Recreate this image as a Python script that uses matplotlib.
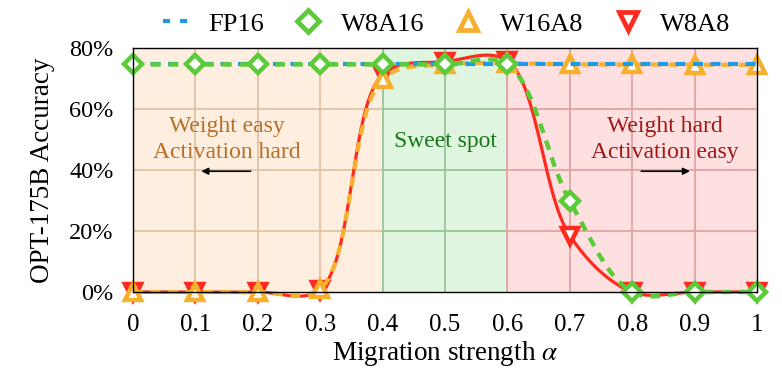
import numpy as np
import matplotlib
matplotlib.use("Agg")
import matplotlib.pyplot as plt
from matplotlib.lines import Line2D

plt.rcParams['font.family'] = ['Liberation Serif', 'DejaVu Serif']
plt.rcParams['mathtext.fontset'] = 'stix'

# ---- data ----
alpha = [0.0, 0.1, 0.2, 0.3, 0.4, 0.5, 0.6, 0.7, 0.8, 0.9, 1.0]
fp16 = [74.6, 74.6, 74.6, 74.6, 74.6, 74.6, 74.6, 74.6, 74.6, 74.6, 74.6]
w8a16 = [74.6, 74.6, 74.6, 74.6, 74.6, 74.6, 74.6, 29.8, 0.0, 0.0, 0.0]
w16a8 = [0.0, 0.0, 0.0, 1.0, 69.8, 74.6, 75.0, 74.6, 74.6, 74.5, 74.5]
w8a8 = [0.0, 0.0, 0.0, 0.8, 71.3, 75.5, 75.8, 18.5, 0.0, 0.0, 0.0]

xticks = [0, 0.1, 0.2, 0.3, 0.4, 0.5, 0.6, 0.7, 0.8, 0.9, 1.0]
xticklabels = ['0', '0.1', '0.2', '0.3', '0.4', '0.5', '0.6', '0.7', '0.8', '0.9', '1']
yticks = [0, 20, 40, 60, 80]
yticklabels = ['0%', '20%', '40%', '60%', '80%']

regions = [(0.0, 0.4), (0.4, 0.6), (0.6, 1.0)]
region_bg = ['#FDEEE0', '#E0F5E0', '#FFE0E0']
region_grid = ['#E0C3A5', '#98C498', '#E2A2A2']

SX, SY = 624.0, 3.05  # approximate pixel scale for spline parameterisation


def smooth(x, y, n=40, a=0.5):
    P = np.column_stack([np.asarray(x, float) * SX, np.asarray(y, float) * SY])
    P = np.vstack([2 * P[0] - P[1], P, 2 * P[-1] - P[-2]])
    d = np.linalg.norm(np.diff(P, axis=0), axis=1)
    d = np.maximum(d, 1e-6) ** a
    t = np.concatenate([[0], np.cumsum(d)])
    tang = np.zeros_like(P)
    for i in range(1, len(P) - 1):
        t0, t1, t2 = t[i - 1], t[i], t[i + 1]
        tang[i] = (P[i] - P[i - 1]) / (t1 - t0) - (P[i + 1] - P[i - 1]) / (t2 - t0) + \
            (P[i + 1] - P[i]) / (t2 - t1)
    out = []
    s = np.linspace(0, 1, n)[:, None]
    for i in range(1, len(P) - 2):
        dt = t[i + 1] - t[i]
        p0, p3 = P[i], P[i + 1]
        c1 = p0 + tang[i] * dt / 3
        c2 = p3 - tang[i + 1] * dt / 3
        b = (1 - s) ** 3 * p0 + 3 * (1 - s) ** 2 * s * c1 + 3 * (1 - s) * s ** 2 * c2 + s ** 3 * p3
        out.append(b)
    out = np.vstack(out)
    return out[:, 0] / SX, out[:, 1] / SY


fig = plt.figure(figsize=(7.82, 3.74), dpi=100)
ax = fig.add_axes([133 / 782, 82 / 374, 624 / 782, 244 / 374])
ax.set_xlim(0, 1)
ax.set_ylim(0, 80)

# backgrounds and tinted grid
for (a, b), bg, gc in zip(regions, region_bg, region_grid):
    ax.axvspan(a, b, color=bg, zorder=0, lw=0)
    for yy in yticks[1:-1]:
        ax.hlines(yy, a, b, color=gc, lw=1.3, zorder=0.5)
    for xx in xticks:
        if a - 1e-9 <= xx < b - 1e-9 and xx > 0:
            ax.vlines(xx, 0, 80, color=gc, lw=1.3, zorder=0.5)

# series
red = '#FF2A1F'
orange = '#F7AF2E'
blue = '#1E9BE3'
green = '#5BCB3A'

sx, sy = smooth(alpha, w8a8)
ax.plot(sx, sy, color=red, lw=2.3, zorder=3, clip_on=False)
ax.plot(alpha, w8a8, ls='none', marker='v', ms=11.5, mfc='white', mec=red, mew=3.2,
        zorder=3, clip_on=False)

sx, sy = smooth(alpha, w16a8)
ax.plot(sx, sy, color=orange, lw=3, dashes=(2.4, 1.8), zorder=4, clip_on=False)
ax.plot(alpha, w16a8, ls='none', marker='^', ms=11.5, mfc='white', mec=orange, mew=3.2,
        zorder=4, clip_on=False)

ax.plot(alpha, fp16, color=blue, lw=3, dashes=(2.4, 1.8), zorder=5, clip_on=False)

sx, sy = smooth(alpha, w8a16)
ax.plot(sx, sy, color=green, lw=3.2, dashes=(2.2, 1.8), zorder=6, clip_on=False)
ax.plot(alpha, w8a16, ls='none', marker='D', ms=9, mfc='white', mec=green, mew=3.2,
        zorder=6, clip_on=False)

# annotations
ax.text(0.15, 50, 'Weight easy\nActivation hard', color='#B86F28', fontsize=17,
        ha='center', va='center', linespacing=1.3, zorder=2)
ax.text(0.5, 49.5, 'Sweet spot', color='#17781A', fontsize=17,
        ha='center', va='center', zorder=2)
ax.text(0.853, 50, 'Weight hard\nActivation easy', color='#A01818', fontsize=17,
        ha='center', va='center', linespacing=1.3, zorder=2)
ax.annotate('', xy=(0.105, 39.6), xytext=(0.193, 39.6),
            arrowprops=dict(arrowstyle='-|>', color='black', lw=1.2, mutation_scale=10),
            zorder=2)
ax.annotate('', xy=(0.897, 39.6), xytext=(0.81, 39.6),
            arrowprops=dict(arrowstyle='-|>', color='black', lw=1.2, mutation_scale=10),
            zorder=2)

ax.set_xticks(xticks)
ax.set_xticklabels(xticklabels, fontsize=18)
ax.set_yticks(yticks)
ax.set_yticklabels(yticklabels, fontsize=17.5)
ax.tick_params(axis='x', length=0, pad=16)
ax.tick_params(axis='y', length=0, pad=14)
ax.set_xlabel('Migration strength $\\alpha$', fontsize=19.5, labelpad=2)
ax.set_ylabel('OPT-175B Accuracy', fontsize=19.5, labelpad=10)
for s in ax.spines.values():
    s.set_color('black')
    s.set_linewidth(1.0)
    s.set_zorder(7)

handles = [
    Line2D([], [], color=blue, lw=3, dashes=(1.7, 2.4)),
    Line2D([], [], ls='none', marker='D', ms=11, mfc='white', mec=green, mew=3.4),
    Line2D([], [], ls='none', marker='^', ms=13, mfc='white', mec=orange, mew=3.4),
    Line2D([], [], ls='none', marker='v', ms=13, mfc='white', mec=red, mew=3.4),
]
fig.legend(handles, ['FP16', 'W8A16', 'W16A8', 'W8A8'], loc='center',
           bbox_to_anchor=(447 / 782, 1 - 24 / 374), ncol=4, frameon=False, fontsize=19,
           handlelength=0.95, handletextpad=0.76, columnspacing=1.18,
           borderpad=0, borderaxespad=0)

fig.savefig('out.png', dpi=100)
